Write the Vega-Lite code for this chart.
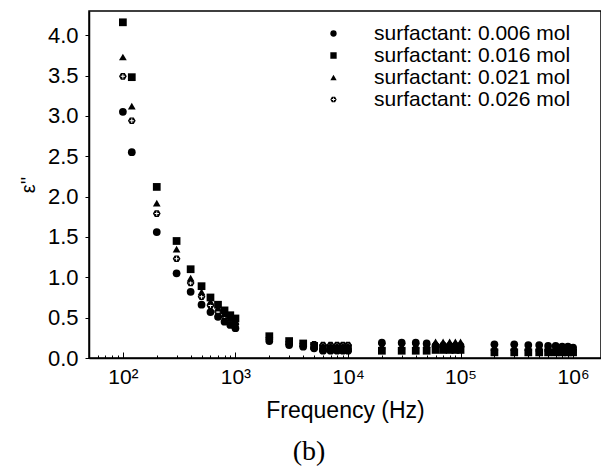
{
  "$schema": "https://vega.github.io/schema/vega-lite/v6.json",
  "width": 512,
  "height": 347,
  "autosize": "none",
  "padding": {"left": 89, "top": 11, "right": 0, "bottom": 113},
  "background": "white",
  "config": {
    "view": {"stroke": "black", "strokeWidth": 1.5},
    "font": "Liberation Sans"
  },
  "title": {"text": "(b)", "orient": "bottom", "font": "Liberation Serif", "fontSize": 28, "fontWeight": "normal", "color": "black", "offset": 16, "dx": -36},
  "datasets": {
    "d": [
      {"f": 100, "s": "surfactant: 0.016 mol", "v": 4.16}, {"f": 100, "s": "surfactant: 0.021 mol", "v": 3.73}, {"f": 100, "s": "surfactant: 0.026 mol", "v": 3.49}, {"f": 100, "s": "surfactant: 0.006 mol", "v": 3.05},
      {"f": 120, "s": "surfactant: 0.016 mol", "v": 3.48}, {"f": 120, "s": "surfactant: 0.021 mol", "v": 3.12}, {"f": 120, "s": "surfactant: 0.026 mol", "v": 2.94}, {"f": 120, "s": "surfactant: 0.006 mol", "v": 2.55},
      {"f": 200, "s": "surfactant: 0.016 mol", "v": 2.12}, {"f": 200, "s": "surfactant: 0.021 mol", "v": 1.92}, {"f": 200, "s": "surfactant: 0.026 mol", "v": 1.79}, {"f": 200, "s": "surfactant: 0.006 mol", "v": 1.56},
      {"f": 300, "s": "surfactant: 0.016 mol", "v": 1.45}, {"f": 300, "s": "surfactant: 0.021 mol", "v": 1.35}, {"f": 300, "s": "surfactant: 0.026 mol", "v": 1.23}, {"f": 300, "s": "surfactant: 0.006 mol", "v": 1.05},
      {"f": 400, "s": "surfactant: 0.016 mol", "v": 1.10}, {"f": 400, "s": "surfactant: 0.021 mol", "v": 0.99}, {"f": 400, "s": "surfactant: 0.026 mol", "v": 0.93}, {"f": 400, "s": "surfactant: 0.006 mol", "v": 0.82},
      {"f": 500, "s": "surfactant: 0.016 mol", "v": 0.89}, {"f": 500, "s": "surfactant: 0.021 mol", "v": 0.82}, {"f": 500, "s": "surfactant: 0.026 mol", "v": 0.76}, {"f": 500, "s": "surfactant: 0.006 mol", "v": 0.66},
      {"f": 600, "s": "surfactant: 0.016 mol", "v": 0.75}, {"f": 600, "s": "surfactant: 0.021 mol", "v": 0.70}, {"f": 600, "s": "surfactant: 0.026 mol", "v": 0.65}, {"f": 600, "s": "surfactant: 0.006 mol", "v": 0.57},
      {"f": 700, "s": "surfactant: 0.016 mol", "v": 0.66}, {"f": 700, "s": "surfactant: 0.021 mol", "v": 0.62}, {"f": 700, "s": "surfactant: 0.026 mol", "v": 0.57}, {"f": 700, "s": "surfactant: 0.006 mol", "v": 0.51},
      {"f": 800, "s": "surfactant: 0.016 mol", "v": 0.59}, {"f": 800, "s": "surfactant: 0.021 mol", "v": 0.55}, {"f": 800, "s": "surfactant: 0.026 mol", "v": 0.51}, {"f": 800, "s": "surfactant: 0.006 mol", "v": 0.45},
      {"f": 900, "s": "surfactant: 0.016 mol", "v": 0.53}, {"f": 900, "s": "surfactant: 0.021 mol", "v": 0.49}, {"f": 900, "s": "surfactant: 0.026 mol", "v": 0.46}, {"f": 900, "s": "surfactant: 0.006 mol", "v": 0.41},
      {"f": 1000, "s": "surfactant: 0.016 mol", "v": 0.49}, {"f": 1000, "s": "surfactant: 0.021 mol", "v": 0.45}, {"f": 1000, "s": "surfactant: 0.026 mol", "v": 0.42}, {"f": 1000, "s": "surfactant: 0.006 mol", "v": 0.37},
      {"f": 2000, "s": "surfactant: 0.016 mol", "v": 0.27}, {"f": 2000, "s": "surfactant: 0.021 mol", "v": 0.25}, {"f": 2000, "s": "surfactant: 0.026 mol", "v": 0.25}, {"f": 2000, "s": "surfactant: 0.006 mol", "v": 0.21},
      {"f": 3000, "s": "surfactant: 0.016 mol", "v": 0.21}, {"f": 3000, "s": "surfactant: 0.021 mol", "v": 0.20}, {"f": 3000, "s": "surfactant: 0.026 mol", "v": 0.20}, {"f": 3000, "s": "surfactant: 0.006 mol", "v": 0.16},
      {"f": 4000, "s": "surfactant: 0.016 mol", "v": 0.18}, {"f": 4000, "s": "surfactant: 0.021 mol", "v": 0.18}, {"f": 4000, "s": "surfactant: 0.026 mol", "v": 0.18}, {"f": 4000, "s": "surfactant: 0.006 mol", "v": 0.14},
      {"f": 5000, "s": "surfactant: 0.016 mol", "v": 0.15}, {"f": 5000, "s": "surfactant: 0.021 mol", "v": 0.17}, {"f": 5000, "s": "surfactant: 0.026 mol", "v": 0.17}, {"f": 5000, "s": "surfactant: 0.006 mol", "v": 0.12},
      {"f": 6000, "s": "surfactant: 0.016 mol", "v": 0.12}, {"f": 6000, "s": "surfactant: 0.021 mol", "v": 0.15}, {"f": 6000, "s": "surfactant: 0.026 mol", "v": 0.16}, {"f": 6000, "s": "surfactant: 0.006 mol", "v": 0.09},
      {"f": 7000, "s": "surfactant: 0.016 mol", "v": 0.12}, {"f": 7000, "s": "surfactant: 0.021 mol", "v": 0.15}, {"f": 7000, "s": "surfactant: 0.026 mol", "v": 0.16}, {"f": 7000, "s": "surfactant: 0.006 mol", "v": 0.09},
      {"f": 8000, "s": "surfactant: 0.016 mol", "v": 0.12}, {"f": 8000, "s": "surfactant: 0.021 mol", "v": 0.15}, {"f": 8000, "s": "surfactant: 0.026 mol", "v": 0.16}, {"f": 8000, "s": "surfactant: 0.006 mol", "v": 0.09},
      {"f": 9000, "s": "surfactant: 0.016 mol", "v": 0.12}, {"f": 9000, "s": "surfactant: 0.021 mol", "v": 0.15}, {"f": 9000, "s": "surfactant: 0.026 mol", "v": 0.16}, {"f": 9000, "s": "surfactant: 0.006 mol", "v": 0.09},
      {"f": 10000, "s": "surfactant: 0.016 mol", "v": 0.12}, {"f": 10000, "s": "surfactant: 0.021 mol", "v": 0.15}, {"f": 10000, "s": "surfactant: 0.026 mol", "v": 0.16}, {"f": 10000, "s": "surfactant: 0.006 mol", "v": 0.09},
      {"f": 20000, "s": "surfactant: 0.016 mol", "v": 0.09}, {"f": 20000, "s": "surfactant: 0.021 mol", "v": 0.15}, {"f": 20000, "s": "surfactant: 0.026 mol", "v": 0.18}, {"f": 20000, "s": "surfactant: 0.006 mol", "v": 0.19},
      {"f": 30000, "s": "surfactant: 0.016 mol", "v": 0.09}, {"f": 30000, "s": "surfactant: 0.021 mol", "v": 0.15}, {"f": 30000, "s": "surfactant: 0.026 mol", "v": 0.18}, {"f": 30000, "s": "surfactant: 0.006 mol", "v": 0.19},
      {"f": 40000, "s": "surfactant: 0.016 mol", "v": 0.09}, {"f": 40000, "s": "surfactant: 0.021 mol", "v": 0.16}, {"f": 40000, "s": "surfactant: 0.026 mol", "v": 0.18}, {"f": 40000, "s": "surfactant: 0.006 mol", "v": 0.19},
      {"f": 50000, "s": "surfactant: 0.016 mol", "v": 0.09}, {"f": 50000, "s": "surfactant: 0.021 mol", "v": 0.17}, {"f": 50000, "s": "surfactant: 0.026 mol", "v": 0.17}, {"f": 50000, "s": "surfactant: 0.006 mol", "v": 0.18},
      {"f": 60000, "s": "surfactant: 0.016 mol", "v": 0.10}, {"f": 60000, "s": "surfactant: 0.021 mol", "v": 0.20}, {"f": 60000, "s": "surfactant: 0.026 mol", "v": 0.16}, {"f": 60000, "s": "surfactant: 0.006 mol", "v": 0.15},
      {"f": 70000, "s": "surfactant: 0.016 mol", "v": 0.10}, {"f": 70000, "s": "surfactant: 0.021 mol", "v": 0.20}, {"f": 70000, "s": "surfactant: 0.026 mol", "v": 0.16}, {"f": 70000, "s": "surfactant: 0.006 mol", "v": 0.15},
      {"f": 80000, "s": "surfactant: 0.016 mol", "v": 0.10}, {"f": 80000, "s": "surfactant: 0.021 mol", "v": 0.20}, {"f": 80000, "s": "surfactant: 0.026 mol", "v": 0.15}, {"f": 80000, "s": "surfactant: 0.006 mol", "v": 0.15},
      {"f": 90000, "s": "surfactant: 0.016 mol", "v": 0.10}, {"f": 90000, "s": "surfactant: 0.021 mol", "v": 0.20}, {"f": 90000, "s": "surfactant: 0.026 mol", "v": 0.15}, {"f": 90000, "s": "surfactant: 0.006 mol", "v": 0.15},
      {"f": 100000, "s": "surfactant: 0.016 mol", "v": 0.10}, {"f": 100000, "s": "surfactant: 0.021 mol", "v": 0.20}, {"f": 100000, "s": "surfactant: 0.026 mol", "v": 0.14}, {"f": 100000, "s": "surfactant: 0.006 mol", "v": 0.15},
      {"f": 200000, "s": "surfactant: 0.016 mol", "v": 0.07}, {"f": 200000, "s": "surfactant: 0.021 mol", "v": 0.13}, {"f": 200000, "s": "surfactant: 0.026 mol", "v": 0.10}, {"f": 200000, "s": "surfactant: 0.006 mol", "v": 0.17},
      {"f": 300000, "s": "surfactant: 0.016 mol", "v": 0.07}, {"f": 300000, "s": "surfactant: 0.021 mol", "v": 0.13}, {"f": 300000, "s": "surfactant: 0.026 mol", "v": 0.10}, {"f": 300000, "s": "surfactant: 0.006 mol", "v": 0.17},
      {"f": 400000, "s": "surfactant: 0.016 mol", "v": 0.07}, {"f": 400000, "s": "surfactant: 0.021 mol", "v": 0.13}, {"f": 400000, "s": "surfactant: 0.026 mol", "v": 0.10}, {"f": 400000, "s": "surfactant: 0.006 mol", "v": 0.16},
      {"f": 500000, "s": "surfactant: 0.016 mol", "v": 0.07}, {"f": 500000, "s": "surfactant: 0.021 mol", "v": 0.12}, {"f": 500000, "s": "surfactant: 0.026 mol", "v": 0.10}, {"f": 500000, "s": "surfactant: 0.006 mol", "v": 0.16},
      {"f": 600000, "s": "surfactant: 0.016 mol", "v": 0.07}, {"f": 600000, "s": "surfactant: 0.021 mol", "v": 0.12}, {"f": 600000, "s": "surfactant: 0.026 mol", "v": 0.10}, {"f": 600000, "s": "surfactant: 0.006 mol", "v": 0.15},
      {"f": 700000, "s": "surfactant: 0.016 mol", "v": 0.07}, {"f": 700000, "s": "surfactant: 0.021 mol", "v": 0.12}, {"f": 700000, "s": "surfactant: 0.026 mol", "v": 0.10}, {"f": 700000, "s": "surfactant: 0.006 mol", "v": 0.15},
      {"f": 800000, "s": "surfactant: 0.016 mol", "v": 0.07}, {"f": 800000, "s": "surfactant: 0.021 mol", "v": 0.12}, {"f": 800000, "s": "surfactant: 0.026 mol", "v": 0.10}, {"f": 800000, "s": "surfactant: 0.006 mol", "v": 0.14},
      {"f": 900000, "s": "surfactant: 0.016 mol", "v": 0.07}, {"f": 900000, "s": "surfactant: 0.021 mol", "v": 0.11}, {"f": 900000, "s": "surfactant: 0.026 mol", "v": 0.10}, {"f": 900000, "s": "surfactant: 0.006 mol", "v": 0.14},
      {"f": 1000000, "s": "surfactant: 0.016 mol", "v": 0.07}, {"f": 1000000, "s": "surfactant: 0.021 mol", "v": 0.11}, {"f": 1000000, "s": "surfactant: 0.026 mol", "v": 0.10}, {"f": 1000000, "s": "surfactant: 0.006 mol", "v": 0.13}
    ]
  },
  "data": {"name": "d"},
  "mark": {"type": "point", "filled": true, "fill": "black", "strokeWidth": 0, "opacity": 1, "size": 60},
  "encoding": {
    "x": {
      "field": "f", "type": "quantitative",
      "scale": {"type": "log", "domain": [50, 1770000], "nice": false},
      "axis": {
        "title": "Frequency (Hz)",
        "titleFont": "Liberation Sans", "titleFontSize": 23, "titleFontWeight": "normal", "titleColor": "black", "titlePadding": 9,
        "values": [60, 70, 80, 90, 100, 200, 300, 400, 500, 600, 700, 800, 900, 1000, 2000, 3000, 4000, 5000, 6000, 7000, 8000, 9000, 10000, 20000, 30000, 40000, 50000, 60000, 70000, 80000, 90000, 100000, 200000, 300000, 400000, 500000, 600000, 700000, 800000, 900000, 1000000],
        "labelExpr": "datum.value==100?'10²':datum.value==1000?'10³':datum.value==10000?'10⁴':datum.value==100000?'10⁵':datum.value==1000000?'10⁶':''",
        "labelFont": "Liberation Sans", "labelFontSize": 21, "labelColor": "black", "labelPadding": 14, "labelFlush": false, "labelOverlap": false,
        "tickSize": {"condition": {"test": "datum.value==100||datum.value==1000||datum.value==10000||datum.value==100000||datum.value==1000000", "value": -6}, "value": -3},
        "tickColor": "black", "tickWidth": 1,
        "domainColor": "black", "domainWidth": 1.5,
        "grid": false
      }
    },
    "y": {
      "field": "v", "type": "quantitative",
      "scale": {"domain": [0, 4.3], "nice": false},
      "axis": {
        "title": "ε''",
        "titleFont": "Liberation Sans", "titleFontSize": 20, "titleFontWeight": "normal", "titleColor": "black", "titlePadding": 9,
        "values": [0, 0.5, 1, 1.5, 2, 2.5, 3, 3.5, 4],
        "format": ".1f",
        "labelFont": "Liberation Sans", "labelFontSize": 22, "labelColor": "black", "labelPadding": 7,
        "tickSize": 4, "tickColor": "black", "tickWidth": 1,
        "domainColor": "black", "domainWidth": 1.5,
        "grid": false
      }
    },
    "shape": {
      "field": "s", "type": "nominal",
      "scale": {
        "domain": ["surfactant: 0.006 mol", "surfactant: 0.016 mol", "surfactant: 0.021 mol", "surfactant: 0.026 mol"],
        "range": ["circle", "square", "triangle-up", "M-1,0L-0.5,-0.866L0.5,-0.866L1,0L0.5,0.866L-0.5,0.866ZM-0.13,-0.55L-0.13,-0.13L-0.55,-0.13L-0.55,0.13L-0.13,0.13L-0.13,0.55L0.13,0.55L0.13,0.13L0.55,0.13L0.55,-0.13L0.13,-0.13L0.13,-0.55Z"]
      },
      "legend": {
        "title": null, "orient": "none", "legendX": 234, "legendY": 13,
        "labelFont": "Liberation Sans", "labelFontSize": 21, "labelColor": "black", "labelOffset": 30, "labelLimit": 400,
        "symbolSize": 40, "symbolFillColor": "black", "symbolStrokeWidth": 0, "rowPadding": 0, "clipHeight": 19
      }
    }
  }
}
